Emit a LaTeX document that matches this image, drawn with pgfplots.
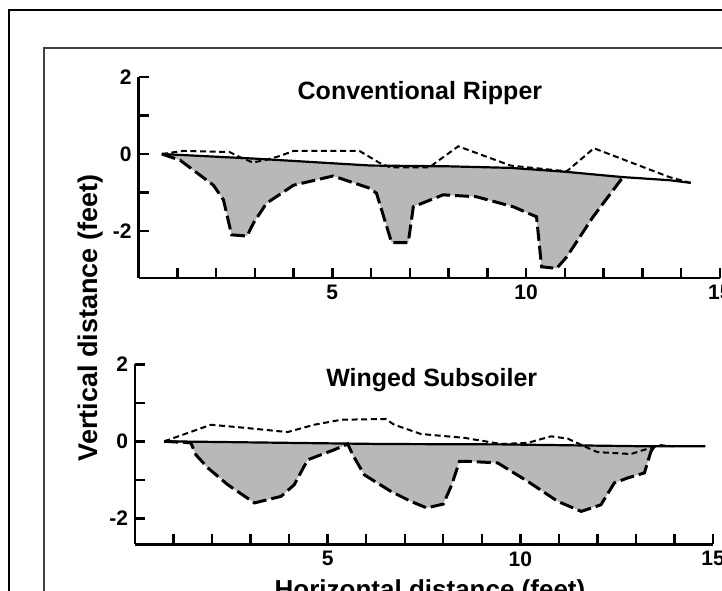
\documentclass[border=0pt]{standalone}
\usepackage{fontspec}
\setmainfont{Liberation Sans}
\usepackage{pgfplots}
\pgfplotsset{compat=1.18}

\begin{document}
\begin{tikzpicture}
\path[use as bounding box] (0pt,0pt) rectangle (361pt,-295pt);
\clip (0pt,0pt) rectangle (361pt,-295pt);
\fill[white] (0pt,0pt) rectangle (361pt,-295pt);
\begin{scope}[x=0.5pt,y=-0.5pt]
\draw[line width=1.1pt] (9,600) -- (9,10) -- (730,10);
\draw[line width=1.1pt, black!75] (44,600) -- (44,48) -- (730,48);
\node[rotate=90, font=\fontsize{13.5}{15}\selectfont\bfseries] at (91,318) {Vertical distance (feet)};
\node[anchor=base, font=\fontsize{13}{15}\selectfont\bfseries] at (430,598) {Horizontal distance (feet)};
\end{scope}

\pgfplotsset{panel/.style={
  scale only axis, axis x line=bottom, axis y line=left,
  axis line style={-, line width=1.3pt},
  tick align=inside, major tick length=5pt, minor tick length=5pt,
  every tick/.style={black, line width=1.2pt},
  xmin=0, xmax=15, xtick={5,10,15}, minor xtick={1,...,14},
  ytick={-2,0,2}, minor ytick={-1,1},
  /pgf/number format/assume math mode=true,
  ticklabel style={font=\fontsize{10.5}{12}\selectfont\bfseries},
  clip=false,
},
surf/.style={black, line width=1.1pt},
upper/.style={black, line width=1pt, dash pattern=on 3pt off 1.8pt},
lower/.style={black, line width=1.5pt, dash pattern=on 7pt off 2.5pt},
shade/.style={fill=black!28, draw=none},
}

% ---------------- Conventional Ripper ----------------
\begin{axis}[panel, at={(69.3pt,-139pt)}, anchor=south west,
  width=290.6pt, height=100.5pt, ymin=-3.22, ymax=2]
\addplot[shade] coordinates {
 (0.6,0) (1.07,-0.16) (1.93,-0.81) (2.19,-1.19) (2.4,-2.1) (2.8,-2.13) (2.96,-1.8)
 (3.3,-1.28) (4.0,-0.81) (5.02,-0.57) (5.97,-0.89) (6.14,-1.02) (6.53,-2.3) (6.96,-2.3)
 (7.09,-1.37) (7.86,-1.06) (8.72,-1.11) (9.67,-1.37) (10.27,-1.63) (10.4,-2.93)
 (10.79,-2.97) (11.05,-2.67) (11.73,-1.63) (12.5,-0.6)
 (11,-0.46) (9.6,-0.36) (8,-0.32) (6,-0.3) (3,-0.12) (0.6,0)} -- cycle;
\addplot[surf] coordinates {
 (0.6,0) (3,-0.12) (6,-0.3) (8,-0.32) (9.6,-0.36) (11,-0.46) (12.5,-0.6) (13.7,-0.68) (14.25,-0.75)};
\addplot[upper] coordinates {
 (0.6,0) (1.15,0.08) (2.35,0.05) (2.65,-0.1) (2.95,-0.22) (3.3,-0.15) (3.65,-0.05)
 (4.0,0.08) (5.7,0.08) (6.2,-0.22) (6.5,-0.35) (7.5,-0.35) (7.7,-0.2) (8.25,0.2)
 (9.6,-0.3) (11.05,-0.45) (11.75,0.15) (13.7,-0.6) (14.25,-0.75)};
\addplot[lower] coordinates {
 (0.6,0) (1.07,-0.16) (1.93,-0.81) (2.19,-1.19) (2.4,-2.1) (2.8,-2.13) (2.96,-1.8)
 (3.3,-1.28) (4.0,-0.81) (5.02,-0.57) (5.97,-0.89) (6.14,-1.02) (6.53,-2.3) (6.96,-2.3)
 (7.09,-1.37) (7.86,-1.06) (8.72,-1.11) (9.67,-1.37) (10.27,-1.63) (10.4,-2.93)
 (10.79,-2.97) (11.05,-2.67) (11.73,-1.63) (12.5,-0.6)};
\node[font=\fontsize{12.5}{14}\selectfont\bfseries] at (axis cs:7.26,1.58) {Conventional Ripper};
\end{axis}

% ---------------- Winged Subsoiler ----------------
\begin{axis}[panel, at={(67.5pt,-272.15pt)}, anchor=south west,
  width=289pt, height=90pt, ymin=-2.675, ymax=2]
\addplot[shade] coordinates {
 (0.76,0) (1.45,-0.04) (1.58,-0.35) (1.89,-0.69) (2.41,-1.13) (3.1,-1.6) (3.79,-1.43)
 (4.13,-1.13) (4.48,-0.48) (5.17,-0.22) (5.52,-0.07) (5.65,-0.35) (5.95,-0.87)
 (6.64,-1.3) (7.16,-1.56) (7.57,-1.73) (8.0,-1.63) (8.22,-1.13) (8.42,-0.52)
 (8.63,-0.52) (9.41,-0.56) (10.19,-1.04) (10.97,-1.56) (11.58,-1.82) (12.09,-1.65)
 (12.44,-1.08) (12.79,-0.95) (13.22,-0.82) (13.39,-0.26) (13.48,-0.13)
 (13.3,-0.13) (9.5,-0.08) (6.4,-0.07) (0.76,0)} -- cycle;
\addplot[surf] coordinates {
 (0.76,0) (6.4,-0.07) (9.5,-0.08) (13.3,-0.13) (14.8,-0.13)};
\addplot[upper] coordinates {
 (0.76,0) (1.97,0.43) (2.75,0.36) (3.96,0.24) (4.65,0.43) (5.35,0.56) (6.5,0.58)
 (6.73,0.43) (7.42,0.19) (8.55,0.09) (9.5,-0.07) (10.19,-0.04) (10.8,0.13) (11.23,0.07)
 (11.75,-0.17) (12.0,-0.28) (12.87,-0.33) (13.31,-0.19) (13.65,-0.1) (13.97,-0.13)};
\addplot[lower] coordinates {
 (0.76,0) (1.45,-0.04) (1.58,-0.35) (1.89,-0.69) (2.41,-1.13) (3.1,-1.6) (3.79,-1.43)
 (4.13,-1.13) (4.48,-0.48) (5.17,-0.22) (5.52,-0.07) (5.65,-0.35) (5.95,-0.87)
 (6.64,-1.3) (7.16,-1.56) (7.57,-1.73) (8.0,-1.63) (8.22,-1.13) (8.42,-0.52)
 (8.63,-0.52) (9.41,-0.56) (10.19,-1.04) (10.97,-1.56) (11.58,-1.82) (12.09,-1.65)
 (12.44,-1.08) (12.79,-0.95) (13.22,-0.82) (13.39,-0.26) (13.48,-0.13)};
\node[font=\fontsize{12.5}{14}\selectfont\bfseries] at (axis cs:7.7,1.59) {Winged Subsoiler};
\end{axis}
\end{tikzpicture}
\end{document}
